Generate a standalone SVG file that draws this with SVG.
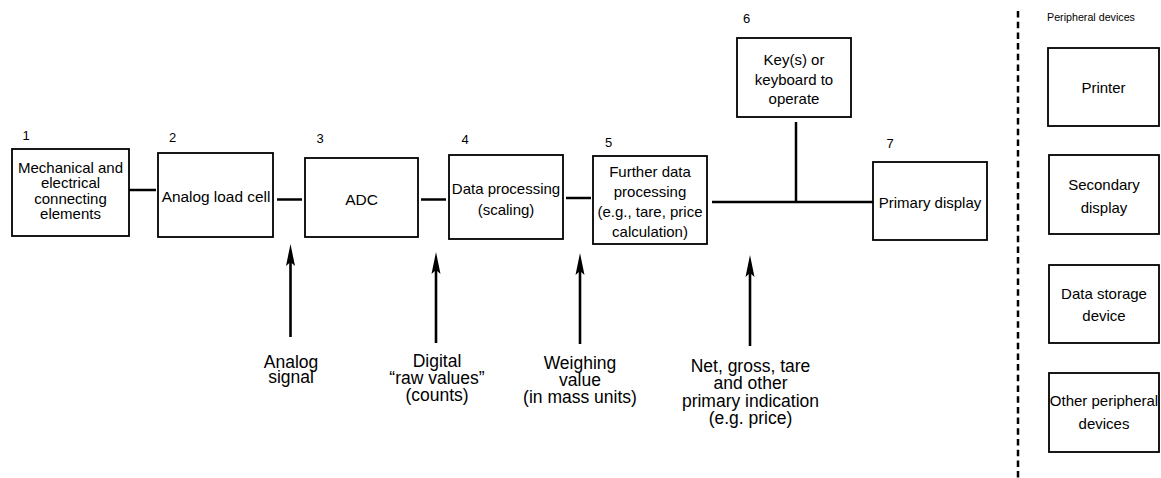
<svg xmlns="http://www.w3.org/2000/svg" width="1161" height="478" viewBox="0 0 1161 478">
<style>
text{font-family:"Liberation Sans",Arial,sans-serif;fill:#000}
.box{fill:#fff;stroke:#000;stroke-width:1.8}
.t{font-size:15px;text-anchor:middle}
.num{font-size:13px}
.lbl{font-size:17.5px;text-anchor:middle}
.small{font-size:10.7px}
.conn{stroke:#000;stroke-width:2.5;fill:none}
.arr{stroke:#000;stroke-width:2.6;fill:none;marker-end:url(#ah)}
</style>
<defs>
<marker id="ah" markerUnits="userSpaceOnUse" viewBox="0 -5 22 10" refX="10" refY="0" markerWidth="22" markerHeight="10" orient="auto">
<path d="M22,0 L0,-4.5 L4,0 L0,4.5 Z" fill="#000"/>
</marker>
</defs>
<rect width="1161" height="478" fill="#fff"/>

<g id="connectors">
<line class="conn" x1="129" y1="190" x2="156" y2="190"/>
<line class="conn" x1="277" y1="199.5" x2="302" y2="199.5"/>
<line class="conn" x1="421" y1="199.5" x2="446" y2="199.5"/>
<line class="conn" x1="566" y1="198" x2="591" y2="198"/>
<line class="conn" x1="712" y1="202" x2="873" y2="202"/>
<line class="conn" x1="796" y1="122" x2="796" y2="202"/>
<line class="arr" x1="290.5" y1="337" x2="290.5" y2="256"/>
<line class="arr" x1="436" y1="343" x2="436" y2="264"/>
<line class="arr" x1="580" y1="344" x2="580" y2="265"/>
<line class="arr" x1="750" y1="346" x2="750" y2="267"/>
<line x1="1018" y1="11" x2="1018" y2="478" stroke="#000" stroke-width="2.5" stroke-dasharray="6.5 4.2"/>
</g>

<g id="node1">
<text class="num" x="22.5" y="140">1</text>
<rect class="box" x="12" y="149" width="117" height="87"/>
<text class="t" x="70.5" y="173">Mechanical and</text>
<text class="t" x="70.5" y="188.3">electrical</text>
<text class="t" x="70.5" y="203.6">connecting</text>
<text class="t" x="70.5" y="219">elements</text>
</g>

<g id="node2">
<text class="num" x="169" y="141.5">2</text>
<rect class="box" x="158" y="153" width="115" height="84"/>
<text class="t" x="216" y="202" style="font-size:15.4px">Analog load cell</text>
</g>

<g id="node3">
<text class="num" x="316.5" y="143">3</text>
<rect class="box" x="305" y="158" width="113" height="79"/>
<text class="t" x="361.5" y="205" style="font-size:15.5px">ADC</text>
</g>

<g id="node4">
<text class="num" x="461.5" y="144">4</text>
<rect class="box" x="449" y="155" width="114" height="84"/>
<text class="t" x="506" y="193.5">Data processing</text>
<text class="t" x="506" y="215">(scaling)</text>
</g>

<g id="node5">
<text class="num" x="605" y="146.5">5</text>
<rect class="box" x="593" y="156" width="114" height="88"/>
<text class="t" x="650" y="177">Further data</text>
<text class="t" x="650" y="197">processing</text>
<text class="t" x="650" y="217">(e.g., tare, price</text>
<text class="t" x="650" y="237">calculation)</text>
</g>

<g id="node6">
<text class="num" x="743" y="23">6</text>
<rect class="box" x="737" y="38" width="114" height="79"/>
<text class="t" x="794" y="64.5">Key(s) or</text>
<text class="t" x="794" y="84.5">keyboard to</text>
<text class="t" x="794" y="104">operate</text>
</g>

<g id="node7">
<text class="num" x="886.5" y="148">7</text>
<rect class="box" x="873" y="162" width="114" height="78"/>
<text class="t" x="930" y="208">Primary display</text>
</g>

<g id="label-analog">
<text class="lbl" x="291" y="368">Analog</text>
<text class="lbl" x="291" y="383">signal</text>
</g>
<g id="label-digital">
<text class="lbl" x="437" y="367">Digital</text>
<text class="lbl" x="437" y="384">“raw values”</text>
<text class="lbl" x="437" y="400.5">(counts)</text>
</g>
<g id="label-weighing">
<text class="lbl" x="580" y="369">Weighing</text>
<text class="lbl" x="580" y="386">value</text>
<text class="lbl" x="580" y="403">(in mass units)</text>
</g>
<g id="label-net">
<text class="lbl" x="750.5" y="372">Net, gross, tare</text>
<text class="lbl" x="750.5" y="389">and other</text>
<text class="lbl" x="750.5" y="406.5">primary indication</text>
<text class="lbl" x="750.5" y="423.5">(e.g. price)</text>
</g>

<g id="peripherals">
<text class="small" x="1047" y="21">Peripheral devices</text>
</g>
<g id="printer">
<rect class="box" x="1048" y="48" width="111" height="78"/>
<text class="t" x="1103.5" y="93">Printer</text>
</g>
<g id="secondary-display">
<rect class="box" x="1049" y="155" width="110" height="79"/>
<text class="t" x="1104" y="190">Secondary</text>
<text class="t" x="1104" y="213">display</text>
</g>
<g id="data-storage">
<rect class="box" x="1049" y="265" width="110" height="78"/>
<text class="t" x="1104" y="299">Data storage</text>
<text class="t" x="1104" y="321">device</text>
</g>
<g id="other-peripheral">
<rect class="box" x="1049" y="373" width="110" height="79"/>
<text class="t" x="1104" y="406">Other peripheral</text>
<text class="t" x="1104" y="429">devices</text>
</g>
</svg>
